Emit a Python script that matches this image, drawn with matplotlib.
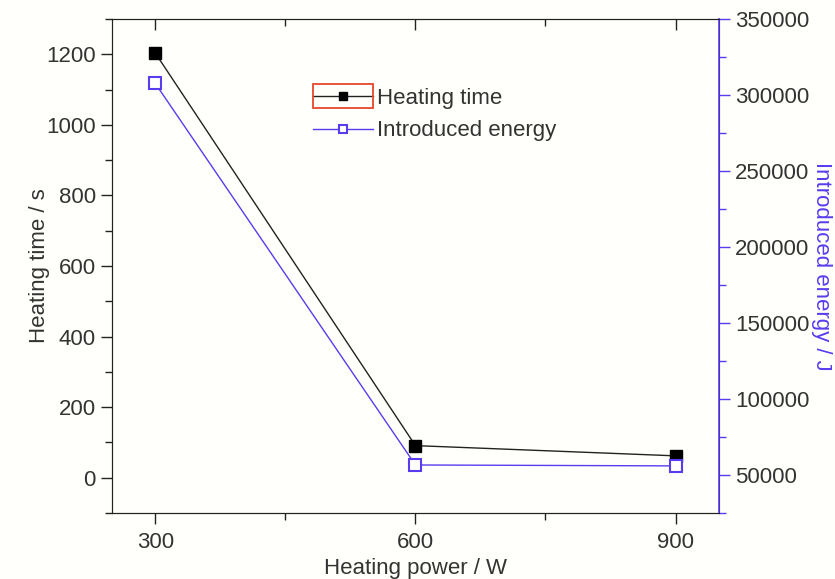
import matplotlib.pyplot as plt
from matplotlib.ticker import MultipleLocator, AutoMinorLocator
from matplotlib.patches import Rectangle

plt.rcParams['font.family'] = ['Liberation Sans', 'DejaVu Sans']

power = [300, 600, 900]
heating_time = [1204, 91, 62]
introduced_energy = [307700, 56600, 56000]

blue = '#5a3cf0'
text_col = '#333333'
fs = 16

fig = plt.figure(figsize=(8.35, 5.79), dpi=100, facecolor='#fffffb')
ax = fig.add_axes([0.134, 0.114, 0.727, 0.853], facecolor='#fffffb')
ax2 = ax.twinx()

l1, = ax.plot(power, heating_time, color='#222222', lw=1.0, marker='s',
              ms=8, mfc='black', mec='black', label='Heating time')
l2, = ax2.plot(power, introduced_energy, color=blue, lw=1.0, marker='s',
               ms=8, mfc='white', mec=blue, mew=1.5, label='Introduced energy')

ax.set_xlim(250, 950)
ax.set_ylim(-100, 1300)
ax2.set_ylim(25000, 350000)

ax.xaxis.set_major_locator(MultipleLocator(300))
ax.xaxis.set_minor_locator(AutoMinorLocator(2))
ax.yaxis.set_major_locator(MultipleLocator(200))
ax.yaxis.set_minor_locator(AutoMinorLocator(2))
ax2.yaxis.set_major_locator(MultipleLocator(50000))
ax2.yaxis.set_minor_locator(AutoMinorLocator(2))

ax.tick_params(axis='both', which='major', direction='out', length=8,
               width=1, labelsize=fs, colors='#222222', labelcolor=text_col)
ax.tick_params(axis='both', which='minor', direction='out', length=5,
               width=1, colors='#222222')
ax.tick_params(axis='x', which='both', top=True)
ax.tick_params(axis='x', which='major', pad=6)
ax2.tick_params(axis='y', which='major', direction='out', length=8, width=1,
                labelsize=fs, colors=blue, labelcolor=text_col)
ax2.tick_params(axis='y', which='minor', direction='out', length=5, width=1,
                colors=blue)

# top axis ticks point inward
for t in ax.xaxis.get_major_ticks() + ax.xaxis.get_minor_ticks():
    t.tick2line.set_marker(3)

for s in ['left', 'bottom', 'top']:
    ax.spines[s].set_color('#222222')
    ax2.spines[s].set_color('#222222')
ax2.spines['right'].set_color(blue)
ax2.spines['right'].set_linewidth(1.2)

ax.set_xlabel('Heating power / W', fontsize=fs, color=text_col, labelpad=3)
ax.set_ylabel('Heating time / s', fontsize=fs, color=text_col, labelpad=-3)
ax2.set_ylabel('Introduced energy / J', fontsize=fs, color=blue,
               rotation=270, labelpad=16)

leg = ax.legend(handles=[l1, l2], loc='upper left',
                bbox_to_anchor=(0.331, 0.86), frameon=False, fontsize=fs,
                handlelength=2.7, handletextpad=0.2, labelspacing=0.5,
                borderpad=0, borderaxespad=0, labelcolor=text_col,
                markerscale=0.75)

# red selection box around the first legend key
fig.canvas.draw()
key = leg.legend_handles[0]
pts = key.get_transform().transform(list(zip(key.get_xdata(), key.get_ydata())))
kx0, kx1 = pts[:, 0].min(), pts[:, 0].max()
cy = pts[:, 1].mean()
inv = fig.transFigure.inverted()
(x0, y0), (x1, y1) = inv.transform([(kx0, cy - 12), (kx1, cy + 12)])
fig.patches.append(Rectangle((x0, y0), x1 - x0, y1 - y0, transform=fig.transFigure,
                             fill=False, edgecolor='#e8452c', lw=1.3))

fig.savefig('out.png', dpi=100, facecolor=fig.get_facecolor())
